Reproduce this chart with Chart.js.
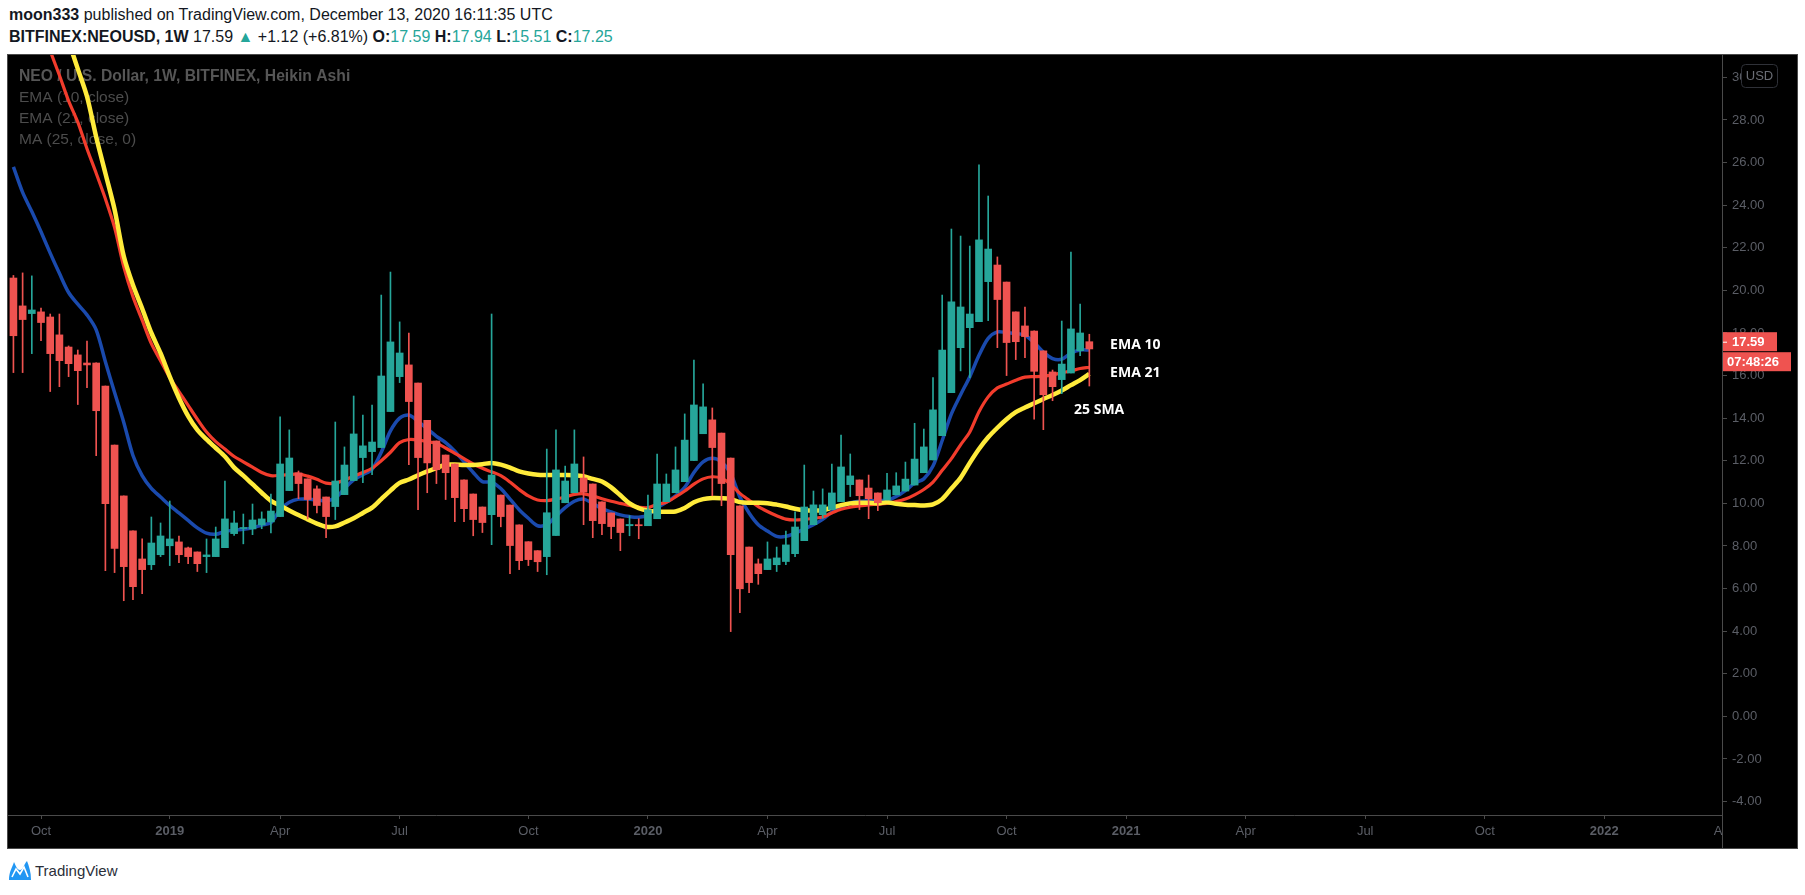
<!DOCTYPE html>
<html>
<head>
<meta charset="utf-8">
<script src="https://cdn.jsdelivr.net/npm/chart.js@4.4.1/dist/chart.umd.min.js"></script>
<style>
  body { margin: 0; background: #fff; width: 1805px; height: 895px; overflow: hidden; position: relative;
         font-family: "Liberation Sans", Arial, sans-serif; color: #131722; }
  .hdr { position: absolute; left: 9px; font-size: 16px; white-space: nowrap; }
  #h1 { top: 6px; }
  #h2 { top: 28px; }
  .up { color: #26a69a; }
  #panel { position: absolute; left: 7px; top: 54px; width: 1789px; height: 793px; border: 1px solid #4a4a4a; background: #000; }
  #logo { position: absolute; left: 8px; top: 858px; display: flex; align-items: center; font-size: 15px; color: #2a2e39; }
</style>
</head>
<body>
<div class="hdr" id="h1"><b>moon333</b> published on TradingView.com, December 13, 2020 16:11:35 UTC</div>
<div class="hdr" id="h2"><b>BITFINEX:NEOUSD, 1W</b> 17.59 <span class="up">&#9650;</span> +1.12 (+6.81%) <b>O:</b><span class="up">17.59</span> <b>H:</b><span class="up">17.94</span> <b>L:</b><span class="up">15.51</span> <b>C:</b><span class="up">17.25</span></div>
<div id="panel"><canvas id="c" width="1789" height="793"></canvas></div>
<div id="logo">
  <svg width="24" height="24" viewBox="0 0 24 24"><path d="M1 22 C1 14 4 10 6 4 C8 8 9 12 12 12 C15 12 16 6 19 3 C21 8 23 14 23 22 Z" fill="#2196f3"/><path d="M4 19 L8 11 L12 16 L16 9 L20 19" stroke="#fff" stroke-width="1.6" fill="none"/></svg>
  <span style="margin-left:3px">TradingView</span>
</div>
<script>
// weekly Heikin Ashi bars, first bar = week of Sep 10 2018 (x = weeks from Oct 1 2018)
const firstWeek = -3;
const opens = [20.58,19.27,18.91,18.99,18.75,17.91,17.34,16.97,16.59,16.59,
  15.51,12.74,10.35,8.71,7.39,7.12,7.59,8.01,8.19,7.91,
  7.72,7.5,7.5,7.92,8.58,8.82,8.8,8.99,9.13,9.38,
  10.6,11.43,11.15,10.68,10.3,9.85,10.41,11.07,12.15,12.43,
  12.62,14.31,15.95,16.5,15.65,13.9,12.93,12.27,11.85,11.1,
  10.44,9.83,9.47,10.39,9.92,8.99,8.2,7.78,7.5,8.49,
  10.03,10.5,11.19,10.91,10.07,9.55,9.27,8.95,9.0,8.95,
  9.28,10.08,10.5,11.02,12.01,13.27,13.92,13.3,12.13,9.88,
  7.95,7.16,6.89,7.12,7.27,7.64,8.25,9.0,9.47,9.71,
  10.08,10.88,11.1,10.72,10.49,10.16,10.4,10.58,10.86,11.44,
  12.04,13.18,15.2,17.31,18.25,18.53,20.41,21.19,20.39,18.99,
  18.33,18.09,17.16,16.17,15.81,16.12,17.17,17.59];
const highs = [20.7,20.82,20.68,19.17,18.89,18.89,17.39,17.2,17.62,16.6,
  15.51,12.74,10.35,8.71,8.33,9.36,9.08,10.11,8.47,7.95,
  7.72,8.33,8.89,11.05,9.64,9.5,9.97,9.6,10.44,14.06,
  13.45,11.52,11.15,10.82,10.3,13.82,12.65,15.04,14.15,14.62,
  19.78,20.86,18.52,18.0,15.65,13.9,12.93,12.27,11.85,11.1,
  10.44,9.83,18.89,10.39,9.92,8.99,8.2,7.78,12.55,13.45,
  11.75,13.45,12.18,10.91,10.07,9.55,9.27,9.42,9.28,10.39,
  12.32,11.38,12.65,14.2,16.73,15.61,14.48,13.3,12.13,9.88,
  7.95,7.39,8.19,7.95,8.7,9.6,11.8,10.58,10.68,11.85,
  13.21,12.32,11.1,11.33,10.49,11.41,11.44,11.94,13.76,13.49,
  15.9,19.78,22.88,22.55,22.08,25.89,24.43,21.57,20.39,18.99,
  19.22,18.1,17.16,16.26,18.56,21.8,19.36,17.94];
const lows = [16.14,16.14,17.03,17.64,15.25,15.48,15.95,14.64,15.43,12.24,
  6.84,6.75,5.43,5.48,5.76,6.89,7.5,7.08,7.22,7.17,
  6.8,6.75,7.5,7.92,8.5,8.1,8.53,8.81,8.61,9.38,
  10.6,10.22,9.27,9.55,8.39,9.24,10.41,11.07,10.97,11.35,
  12.62,14.31,15.67,11.82,9.7,10.5,10.93,10.18,9.14,9.14,
  8.48,8.63,8.06,8.9,6.7,6.89,7.08,6.8,6.65,8.49,
  10.03,10.5,9.0,8.39,8.53,8.34,7.78,8.48,8.34,8.95,
  9.28,10.08,10.5,11.02,12.01,13.27,10.36,9.89,3.98,4.87,
  5.81,6.2,6.89,6.8,7.12,7.5,8.25,9.0,9.3,9.71,
  10.08,10.32,9.71,9.28,9.66,10.16,10.4,10.58,10.86,11.44,
  12.04,13.18,15.2,16.22,15.9,18.53,18.58,17.31,16.0,16.75,
  16.84,13.95,13.46,14.82,15.15,16.12,16.93,15.51];
const closes = [17.87,18.63,19.08,18.49,17.03,16.7,16.56,16.23,16.5,14.35,
  9.99,7.88,7.03,6.09,6.89,8.14,8.47,8.33,7.59,7.5,
  7.17,7.58,8.33,9.27,9.08,8.86,9.22,9.27,9.64,11.85,
  12.13,10.93,10.18,9.9,9.38,11.05,11.8,13.26,12.7,12.88,
  15.98,17.58,17.06,14.78,12.15,11.9,11.58,11.44,10.27,9.75,
  9.24,9.1,11.33,9.38,8.02,7.31,7.36,7.26,9.56,11.57,
  11.05,11.85,10.53,9.19,9.05,8.91,8.63,9.01,8.95,9.7,
  10.91,10.91,11.57,12.97,14.62,14.53,12.62,10.93,7.59,5.99,
  6.28,6.7,7.39,7.44,8.05,8.89,9.83,9.93,9.93,10.49,
  11.71,11.29,10.36,10.22,10.03,10.63,10.82,11.14,12.08,12.65,
  14.39,17.2,19.46,19.22,18.89,22.37,21.94,19.57,17.55,17.59,
  17.83,16.2,15.1,15.48,16.54,18.19,18.0,17.25];

// indicator lines, same weeks
const ema10 = [25.8,24.6,23.7,22.75,21.75,20.8,19.9,19.35,18.85,18.15,
  16.65,15.2,13.8,12.25,11.3,10.7,10.3,9.9,9.55,9.2,
  8.85,8.6,8.55,8.68,8.74,8.78,8.85,8.98,9.1,9.7,
  10.05,10.2,10.2,10.16,10.12,10.25,10.7,11.1,11.35,11.6,
  12.4,13.4,14.0,14.15,13.85,13.5,13.15,12.85,12.45,11.95,
  11.45,11.02,11.0,10.7,10.2,9.7,9.3,8.95,9.0,9.4,
  9.8,10.1,10.2,10.0,9.75,9.6,9.46,9.38,9.35,9.45,
  9.8,10.05,10.35,10.75,11.45,11.95,12.12,11.95,11.4,10.3,
  9.55,9.0,8.7,8.45,8.45,8.6,8.8,9.0,9.25,9.6,
  9.85,10.03,10.1,10.12,10.14,10.14,10.32,10.6,10.95,11.15,
  11.75,12.95,14.2,15.1,15.95,16.95,17.75,18.05,18.02,17.98,
  17.9,17.55,17.1,16.8,16.77,17.05,17.2,17.2];
const ema21 = [36.6,35.2,33.8,32.5,31.25,30.1,28.9,27.9,26.65,25.5,
  24.3,22.95,21.1,19.7,18.6,17.5,16.7,15.9,15.25,14.6,
  13.95,13.35,12.9,12.55,12.2,11.95,11.7,11.45,11.3,11.32,
  11.35,11.38,11.28,11.13,10.95,10.95,11.1,11.28,11.45,11.65,
  12.0,12.4,12.85,13.0,12.98,12.9,12.82,12.6,12.35,12.1,
  11.85,11.65,11.48,11.3,11.0,10.65,10.35,10.16,10.13,10.2,
  10.3,10.42,10.45,10.35,10.22,10.1,10.0,9.9,9.82,9.8,
  9.95,10.05,10.3,10.58,10.9,11.15,11.25,11.18,10.9,10.47,
  10.15,9.85,9.62,9.42,9.26,9.22,9.25,9.3,9.36,9.55,
  9.72,9.82,9.88,9.93,9.96,10.0,10.08,10.2,10.4,10.65,
  11.0,11.55,12.1,12.75,13.35,14.3,15.0,15.42,15.6,15.78,
  15.93,15.95,15.97,16.03,16.13,16.22,16.33,16.39];
const sma25 = [39.5,38.2,36.9,35.6,34.3,33.0,31.7,30.4,29.1,27.2,
  25.5,23.8,21.6,20.25,19.15,18.0,17.05,15.95,14.95,14.1,
  13.45,13.0,12.6,12.2,11.68,11.3,10.9,10.5,10.12,9.9,
  9.67,9.45,9.25,9.05,8.9,8.92,9.1,9.3,9.55,9.8,
  10.2,10.6,10.96,11.12,11.32,11.5,11.66,11.82,11.82,11.8,
  11.8,11.84,11.9,11.82,11.68,11.5,11.4,11.34,11.33,11.33,
  11.33,11.32,11.27,11.15,11.03,10.75,10.38,10.0,9.78,9.66,
  9.62,9.61,9.62,9.78,10.05,10.2,10.25,10.24,10.2,10.06,
  10.03,10.03,10.01,9.94,9.85,9.75,9.68,9.66,9.68,9.8,
  9.92,10.0,10.03,10.03,10.0,10.05,9.98,9.94,9.92,9.9,
  9.95,10.2,10.7,11.2,11.9,12.55,13.1,13.55,13.95,14.28,
  14.5,14.7,14.9,15.09,15.3,15.55,15.79,16.08];

// time axis: first bar of each labelled month
const tickWeeks = [0,14,26,39,53,66,79,92,105,118,131,144,157,170,183];
const tickLabels = ["Oct","2019","Apr","Jul","Oct","2020","Apr","Jul","Oct","2021","Apr","Jul","Oct","2022","Apr"];

const UP = "#26a69a", DOWN = "#ef5350", AXIS_TXT = "#5b5e66";
const weeks = opens.map((_, i) => firstWeek + i);
const candleColors = opens.map((o, i) => closes[i] >= o ? UP : DOWN);
const bodies = weeks.map((w, i) => ({ x: w, y: [Math.min(opens[i], closes[i]), Math.max(opens[i], closes[i])] }));
const wicks = weeks.map((w, i) => ({ x: w, y: [lows[i], highs[i]] }));
const linePts = arr => weeks.map((w, i) => ({ x: w, y: arr[i] }));

const overlay = {
  id: "overlay",
  beforeDatasetsDraw(chart) {
    const ctx = chart.ctx;
    ctx.save();
    ctx.textBaseline = "middle";
    ctx.fillStyle = "#565656";
    ctx.font = "bold 15.7px 'Liberation Sans', Arial";
    ctx.fillText("NEO / U.S. Dollar, 1W, BITFINEX, Heikin Ashi", 11, 22);
    ctx.fillStyle = "#4c4c4c";
    ctx.font = "15.5px 'Liberation Sans', Arial";
    ctx.fillText("EMA (10, close)", 11, 43);
    ctx.fillText("EMA (21, close)", 11, 64);
    ctx.fillText("MA (25, close, 0)", 11, 85);
    ctx.restore();
  },
  afterDatasetsDraw(chart) {
    const { ctx, scales: { x, y } } = chart;
    ctx.save();
    ctx.fillStyle = "#fff";
    ctx.font = "bold 14px 'Open Sans', sans-serif";
    ctx.textBaseline = "middle";
    ctx.fillText("EMA 10", x.getPixelForValue(116.26), y.getPixelForValue(17.44));
    ctx.fillText("EMA 21", x.getPixelForValue(116.26), y.getPixelForValue(16.12));
    ctx.fillText("25 SMA", x.getPixelForValue(112.34), y.getPixelForValue(14.38));
    ctx.restore();
  },
  afterDraw(chart) {
    const { ctx, chartArea: a, scales: { y } } = chart;
    ctx.save();
    // hide time labels spilling under price scale, redraw separator
    ctx.fillStyle = "#000";
    ctx.fillRect(a.right + 1, a.bottom + 1, chart.width - a.right, chart.height - a.bottom);
    ctx.strokeStyle = "#4a4a4a";
    ctx.lineWidth = 1;
    ctx.beginPath();
    ctx.moveTo(a.right + 0.5, 0);
    ctx.lineTo(a.right + 0.5, chart.height);
    ctx.stroke();
    // USD badge
    ctx.fillStyle = "#000";
    ctx.strokeStyle = "#2f3138";
    ctx.beginPath();
    ctx.roundRect(1733.5, 9.5, 36, 23, 4);
    ctx.fill();
    ctx.stroke();
    ctx.fillStyle = "#6b6e76";
    ctx.font = "13px 'Liberation Sans', Arial";
    ctx.textBaseline = "middle";
    ctx.textAlign = "center";
    ctx.fillText("USD", 1751.5, 21.5);
    // last price + countdown labels
    const py = y.getPixelForValue(closes[closes.length - 1] + 0.34);
    ctx.fillStyle = DOWN;
    ctx.fillRect(a.right + 1, py - 9.5, 54, 19);
    ctx.fillRect(a.right + 1, py + 10.5, 68, 19);
    ctx.fillStyle = "#fff";
    ctx.fillRect(a.right + 1, py, 4, 1);
    ctx.font = "bold 13px 'Liberation Sans', Arial";
    ctx.textAlign = "left";
    ctx.fillText("17.59", a.right + 10, py + 0.5);
    ctx.fillText("07:48:26", a.right + 5, py + 20.5);
    ctx.restore();
  }
};

const lineClip = { left: 20, top: 20, right: 0, bottom: 0 };
const noPad = s => { s.paddingTop = 0; s.paddingBottom = 0; s.paddingLeft = 0; s.paddingRight = 0; };

new Chart(document.getElementById("c"), {
  type: "bar",
  data: {
    datasets: [
      { type: "bar", data: bodies, backgroundColor: candleColors, barThickness: 7, minBarLength: 1, grouped: false, order: 0 },
      { type: "bar", data: wicks, backgroundColor: candleColors, barThickness: 1, grouped: false, order: 1 },
      { type: "line", data: linePts(sma25), borderColor: "#ffeb3b", borderWidth: 4.5, pointRadius: 0, tension: 0.3, clip: lineClip, order: 2 },
      { type: "line", data: linePts(ema21), borderColor: "#f23c2c", borderWidth: 3.2, pointRadius: 0, tension: 0.3, clip: lineClip, order: 3 },
      { type: "line", data: linePts(ema10), borderColor: "#1a4aad", borderWidth: 3.5, pointRadius: 0, tension: 0.3, clip: lineClip, order: 4 }
    ]
  },
  options: {
    responsive: false,
    animation: false,
    devicePixelRatio: 1,
    layout: { padding: 0, autoPadding: false },
    plugins: { legend: { display: false }, tooltip: { enabled: false } },
    scales: {
      x: {
        type: "linear",
        offset: false,
        min: -3.59,
        max: 182.8,
        afterFit: s => { s.height = 33; noPad(s); },
        afterBuildTicks: s => { s.ticks = tickWeeks.map(v => ({ value: v })); },
        grid: { offset: false, drawOnChartArea: false, color: "#4a4a4a", tickLength: 4 },
        border: { color: "#4a4a4a" },
        ticks: {
          autoSkip: false,
          maxRotation: 0,
          padding: 5,
          color: AXIS_TXT,
          font: ctx => ({ size: 13, family: "'Liberation Sans', Arial", weight: /^\d/.test(tickLabels[ctx.index] || "") ? "bold" : "normal" }),
          callback: v => tickLabels[tickWeeks.indexOf(v)]
        }
      },
      y: {
        position: "right",
        min: -4.63,
        max: 31.05,
        afterFit: s => { s.width = 75; noPad(s); },
        grid: { drawOnChartArea: false, color: "#4a4a4a", tickLength: 5 },
        border: { color: "#4a4a4a" },
        ticks: {
          stepSize: 2,
          includeBounds: false,
          padding: 5,
          color: AXIS_TXT,
          font: { size: 13, family: "'Liberation Sans', Arial" },
          callback: v => v.toFixed(2)
        }
      }
    }
  },
  plugins: [overlay]
});
</script>
</body>
</html>
